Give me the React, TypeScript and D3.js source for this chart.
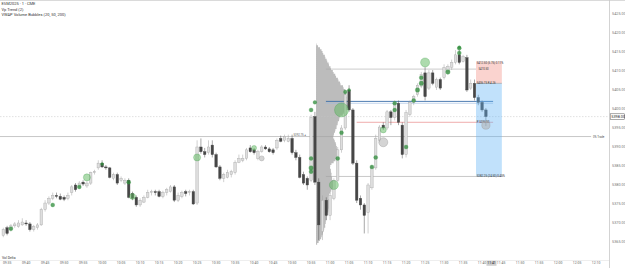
import React from 'react';
import * as d3 from 'd3';

const W = 625, H = 268, PLOT_R = 609, PLOT_B = 260;

// OHLC per 1-minute bar (bar 0 = 09:34)
const opens = [5366.75,5368.75,5368.25,5369.25,5369,5369.5,5370,5369.75,5368.25,5368.75,5369.5,5373.5,5375.25,5376.5,5377.25,5377,5376.75,5376.5,5378,5380,5379.5,5380.75,5379.75,5380.5,5383.25,5384.5,5385.75,5384.75,5384.5,5381.75,5382.75,5381.25,5380.5,5381.25,5377.75,5376.75,5374.75,5375.5,5376.75,5378,5378.25,5378.25,5377,5378,5378.25,5379.5,5376,5377,5378.25,5378,5378.25,5375.25,5390,5388.75,5388.5,5390.5,5388,5384.75,5381.75,5382,5382.75,5383.25,5386,5386.5,5387,5389.75,5389.25,5387,5388.75,5390,5389.5,5389.25,5389.75,5392.25,5391.75,5391.5,5392.25,5388.5,5387.25,5382.75,5381.75,5381.25,5398,5380.75,5367.75,5376,5372,5376.5,5381.25,5389.25,5395,5405,5399.75,5385.75,5376.5,5374.75,5372.75,5379.25,5384.5,5391.75,5395.75,5395,5399.25,5397.75,5401.5,5395.75,5388,5398.5,5401.75,5403.75,5406,5409.5,5405.5,5409.5,5405.75,5407.75,5408.25,5409.75,5411,5412.25,5414.25,5412.5,5413.5,5405.5,5406.75,5403,5401.75,5399.75];
const highs = [5368.75,5369.25,5369.75,5370.25,5370.75,5371.25,5370.75,5370.25,5369.5,5370,5374,5376,5377,5378,5378,5377.75,5377.25,5378,5380,5380.5,5381,5381.25,5381,5383.5,5384,5386.5,5386.5,5385.25,5384.75,5383.25,5383.25,5382.25,5381.75,5381.75,5378.25,5377.25,5376.5,5377.25,5378.75,5378.75,5378.75,5378.75,5378.5,5379.25,5380,5380,5378,5378.5,5378.75,5378.75,5378.75,5391.75,5392.25,5389.75,5391.75,5391.75,5388.5,5385.25,5383.25,5384,5384,5386.5,5388,5388,5389.75,5390.5,5389.75,5389.25,5390.5,5390.5,5390,5389.75,5392.25,5393,5393.25,5393.25,5393.25,5389.25,5388,5383.5,5382.25,5398.5,5399.25,5381.75,5377.25,5376.75,5378,5381.75,5390,5395.75,5404.5,5406.25,5400.25,5386.5,5377.25,5375.25,5380.5,5385.25,5393.25,5395.75,5396.5,5399.75,5399.75,5402.25,5402.25,5396.5,5399.75,5402.25,5403.75,5406.75,5409.75,5411,5410.25,5410.25,5408.25,5408.25,5411.75,5411.75,5413,5415.5,5415.5,5414.25,5414.25,5407.75,5407.75,5403.75,5402.25,5400.25];
const lows = [5366.25,5366.75,5367.75,5368.75,5368.75,5369.25,5369.25,5367.75,5367.75,5368.25,5369.25,5373,5374.75,5376,5376.5,5376,5375.75,5376,5377.25,5378.25,5379.25,5379.75,5379.25,5380,5382.75,5384,5384.5,5384,5381.75,5381.25,5380,5380.75,5380,5376.5,5376,5374.25,5374.25,5375.25,5376.5,5377.25,5377.25,5376.75,5376.5,5377.25,5378,5375.5,5375.5,5376.5,5377,5377.25,5374.75,5374.75,5388.25,5387.25,5388,5387.25,5384.5,5381.25,5380.75,5381.75,5382,5382.75,5385.75,5386,5386.5,5388.5,5388,5386.5,5388.5,5389.25,5388.5,5388,5389.25,5391.25,5391.25,5391.25,5388,5386.5,5381.75,5380,5378.75,5380.75,5380,5365.5,5365.5,5370.75,5370.75,5376,5380.75,5388.5,5394.5,5399.25,5385.25,5375.25,5373.5,5367.25,5367.25,5378.75,5384,5391.25,5394.5,5394.5,5395.75,5397,5395.75,5387,5387.25,5398,5401,5403.25,5405.5,5402.25,5405,5406.25,5405,5405,5407.75,5409,5410.25,5411.75,5411.75,5412.25,5404.5,5405,5402.25,5401,5399.25,5395.5];
const closes = [5368.25,5367.25,5369.25,5369.75,5370,5370.25,5369.75,5368.25,5369,5369.5,5373.5,5375.25,5376.5,5377.25,5377,5376.25,5376.25,5377.25,5379.5,5378.75,5380.5,5380.25,5380.5,5383.25,5383.5,5385.75,5384.75,5384.5,5382,5382.75,5380.5,5381.75,5381.25,5376.75,5376.5,5374.75,5376,5376.75,5378,5378.25,5378,5377,5378,5378.75,5379.5,5376,5377.25,5378,5377.75,5378.25,5375,5390,5388.75,5388,5390,5388,5384.75,5381.75,5382.75,5383.25,5383.5,5386,5387,5387,5389.25,5388.75,5388.5,5388.75,5390,5389.5,5388.75,5388.5,5391.75,5391.5,5392.75,5392.25,5388.5,5387.25,5382,5380.5,5380,5397.75,5380.75,5369.5,5376,5372,5377.25,5381.25,5389.25,5395,5403.75,5399.75,5385.75,5376,5374.75,5372,5380,5384.75,5392.25,5395.25,5395,5399.25,5397.75,5401.5,5396.5,5388,5399,5401.75,5403.25,5406.25,5409,5403.25,5409.5,5406.75,5407.75,5405.5,5411,5411.25,5412.25,5414.25,5412.25,5413.75,5405,5406.75,5403,5401.75,5399.75,5398];

// Volume profile (bins of 0.5 from 5417.00 downward)
const profileTop = 5417;
const profileStep = 0.5;
const profileStartBar = 82.3;
const profileVol = [50,200,400,550,650,720,880,930,1060,1120,1260,1300,1450,1500,1680,1760,1920,2000,2180,2240,2400,2450,2700,2760,2920,2880,3000,2950,3080,3040,3150,3120,3250,3230,3080,2960,2780,2680,2420,2330,2300,2180,2160,2060,2050,1940,1900,1800,1760,1720,1820,1880,1980,2010,2080,2090,2160,2150,2220,2210,2120,1940,1760,1540,1420,1400,1480,1490,1550,1540,1600,1610,1680,1690,1750,1700,1650,1520,1440,1300,1250,1240,1320,1330,1390,1380,1370,1260,1230,1130,1110,1040,1050,980,970,910,920,820,790,700,660,570,510,380,260,110];

// Volume bubbles (buy)
const bubbleBar = [2,13,20,22,26,33,34,51,66,81,81,81,81,82,87,88,89,89,90,91,97,98,100,103,103,106,108,109,110,110,111,117,120,120,120];
const bubblePrice = [5368.5,5374.75,5379.5,5382,5385.5,5380.75,5377,5387.25,5389.75,5399.75,5387,5384.5,5383.5,5401.75,5380,5387,5393.75,5399.75,5404.5,5405,5384.75,5387.25,5394.5,5401.5,5399.75,5390,5402.25,5405,5406.75,5408.25,5412.25,5409.75,5414.75,5416,5416.25];
const bubbleVol = [70,70,70,220,40,70,160,220,110,70,70,90,70,60,360,70,70,870,60,40,70,70,160,70,70,70,70,90,90,70,360,90,70,70,40];
// neutral bubbles
const grayBar = [68,100,127];
const grayPrice = [5387,5391.25,5395.75];
const grayVol = [110,360,300];

// Horizontal levels
const levelPrice = [5392.75,5410.5,5402,5401.5,5396.5,5382.25];
const levelFrom = [-1,84.9,84.9,84.9,93,84.9];
const levelTo = [154.7,124.4,128.9,128.9,128.9,131.2];
const levelStroke = ['#a3a3a3','#a8a8a8','#3b6ea8','#9cbbe0','#e57373','#a3a3a3'];

// Short position tool
const posFrom = 124.4, posTo = 131.2;
const posStop = 5412.5, posEntry = 5406.75, posTarget = 5382.25;

const priceTicks = [5365,5370,5375,5380,5385,5390,5395,5400,5405,5410,5415,5420,5425];
const timeTickBar = [1,6,11,16,21,26,31,36,41,46,51,56,61,66,71,76,81,86,91,96,101,106,111,116,121,126,131,136,141,146,151,156];
const timeTickLabel = ['09:35','09:40','09:45','09:50','09:55','10:00','10:05','10:10','10:15','10:20','10:25','10:30','10:35','10:40','10:45','10:50','10:55','11:00','11:05','11:10','11:15','11:20','11:25','11:30','11:35','11:40','11:45','11:50','11:55','12:00','12:05','12:10'];
const lastBarLabel = '11:41';

const FONT = 'Roboto, "DejaVu Sans", sans-serif';

export default function App() {
  const x = d3.scaleLinear().domain([-0.87, 159.4]).range([0, PLOT_R]);
  const y = d3.scaleLinear().domain([5360.26, 5428.684]).range([PLOT_B, 0]);
  const bw = (x(1) - x(0)) * 0.66;
  const r = d3.scaleSqrt().domain([0, 870]).range([0, 7]);
  const pw = d3.scaleLinear().domain([0, 3250]).range([0, 32.5]);
  const last = closes[closes.length - 1];
  const px0 = x(profileStartBar);

  // volume profile as one stepped path
  const half = profileStep / 2;
  let prof = `M${px0},${y(profileTop + half)}`;
  profileVol.forEach((v, i) => {
    const p = profileTop - i * profileStep;
    prof += `H${px0 + pw(v)}V${y(p - half)}`;
  });
  prof += `H${px0}Z`;

  const boxCx = x(opens.length - 1) + 5.6;

  return (
    <svg width={W} height={H} style={{ position: 'absolute', left: 0, top: 0, background: '#fff' }} fontFamily={FONT}>
      <defs>
        <clipPath id="plot"><rect x={0} y={0} width={PLOT_R} height={PLOT_B} /></clipPath>
      </defs>
      <rect x={0} y={0} width={W} height={H} fill="#fff" />
      <line x1={0} x2={W} y1={0.5} y2={0.5} stroke="#d0d0d0" strokeWidth={0.8} />
      <g clipPath="url(#plot)">
        {/* volume profile */}
        <path d={prof} fill="#b5b5b5" fillOpacity={0.9} />
        {/* current price dashed line */}
        <line x1={0} x2={PLOT_R} y1={y(last)} y2={y(last)} stroke="#c4c4c4" strokeWidth={0.5} strokeDasharray="1.5,1.5" />
        {/* levels */}
        {levelPrice.map((p, i) => (
          <line key={'lv' + i} x1={x(levelFrom[i])} x2={x(levelTo[i])} y1={y(p)} y2={y(p)} stroke={levelStroke[i]} strokeWidth={i === 2 ? 0.9 : 0.6} />
        ))}
        {/* candles */}
        {opens.map((o, i) => {
          const c = closes[i];
          const up = c >= o;
          const cx = x(i);
          const yt = y(Math.max(o, c));
          const yb = y(Math.min(o, c));
          return (
            <g key={'c' + i}>
              <line x1={cx} x2={cx} y1={y(highs[i])} y2={y(lows[i])} stroke={up ? '#a0a0a0' : '#505050'} strokeWidth={0.5} />
              <rect x={cx - bw / 2} y={yt} width={bw} height={Math.max(0.6, yb - yt)} fill={up ? '#dedede' : '#464646'} stroke={up ? '#a6a6a6' : '#464646'} strokeWidth={0.4} />
            </g>
          );
        })}
        {/* position tool */}
        <rect x={x(posFrom)} y={y(posStop)} width={x(posTo) - x(posFrom)} height={y(posEntry) - y(posStop)} fill="#f28b82" fillOpacity={0.38} />
        <rect x={x(posFrom)} y={y(posEntry)} width={x(posTo) - x(posFrom)} height={y(posTarget) - y(posEntry)} fill="#64b5f6" fillOpacity={0.4} />
        <line x1={x(posFrom)} x2={x(posTo)} y1={y(posEntry)} y2={y(posEntry)} stroke="#8a8a8a" strokeWidth={0.5} />
        <g fontSize={2.8} fill="#333">
          <text x={x(posFrom) + 0.8} y={y(posStop) + 2.6}>5412.50 (5.75) 0.11%</text>
          <text x={x(posFrom) + 2.5} y={y(5410.5) + 1}>5410.50</text>
          <text x={x(posFrom) + 0.8} y={y(posEntry) + 1}>5406.75 R 4.26</text>
          <text x={x(posFrom) + 0.8} y={y(5396.5) + 1}>P 5396.50</text>
          <text x={x(posFrom) + 0.8} y={y(posTarget) + 1}>5382.25 (24.50) 0.45%</text>
        </g>
        {/* bubbles */}
        {bubbleBar.map((b, i) => (
          <circle key={'b' + i} cx={x(b)} cy={y(bubblePrice[i])} r={r(bubbleVol[i])}
            fill={bubbleVol[i] < 100 ? '#2e8b3a' : '#5cb85c'} fillOpacity={bubbleVol[i] < 100 ? 0.75 : 0.5}
            stroke="#3d9a47" strokeOpacity={0.7} strokeWidth={0.4} />
        ))}
        {grayBar.map((b, i) => (
          <circle key={'g' + i} cx={x(b)} cy={y(grayPrice[i])} r={r(grayVol[i])} fill="#b0b0b0" fillOpacity={0.55} stroke="#999" strokeWidth={0.4} />
        ))}
        {/* level labels */}
        <text x={x(79.6)} y={y(levelPrice[0]) - 0.6} fontSize={2.8} fill="#555" textAnchor="end">5392.75 ◂</text>
        <text x={x(155.2)} y={y(levelPrice[0]) + 1} fontSize={2.8} fill="#555">0% Trade</text>
      </g>
      {/* legend */}
      <g fontSize={4} fill="#333">
        <text x={1.5} y={4.8}>ESM2025 · 1 · CME</text>
        <text x={1.5} y={10.6}>Vp Trend (2)</text>
        <text x={1.5} y={16.4}>VWAP Volume Bubbles (20, 50, 200)</text>
      </g>
      <text x={2} y={258.6} fontSize={3.4} fill="#333">Vol Delta</text>
      {/* axes */}
      <line x1={PLOT_R + 0.5} x2={PLOT_R + 0.5} y1={0} y2={H} stroke="#c8c8c8" strokeWidth={0.8} />
      <line x1={0} x2={PLOT_R} y1={PLOT_B + 0.5} y2={PLOT_B + 0.5} stroke="#e2e2e2" strokeWidth={0.6} />
      {priceTicks.map((p) => (
        <text key={'pt' + p} x={612} y={y(p) + 1.3} fontSize={3.8} fill="#777">{p.toFixed(2)}</text>
      ))}
      <rect x={610.2} y={y(last) - 2.8} width={14.3} height={5.6} fill="#fff" stroke="#555" strokeWidth={0.5} />
      <text x={611.3} y={y(last) + 1.3} fontSize={3.8} fill="#222">{last.toFixed(2)}</text>
      {timeTickBar.map((b, i) => (
        <text key={'tt' + b} x={x(b)} y={264} fontSize={3.4} fill="#666" textAnchor="middle">{timeTickLabel[i]}</text>
      ))}
      <rect x={boxCx - 5} y={260.8} width={10} height={5} fill="#cfcfcf" />
      <text x={boxCx} y={264.3} fontSize={3.4} fill="#222" textAnchor="middle">{lastBarLabel}</text>
    </svg>
  );
}
